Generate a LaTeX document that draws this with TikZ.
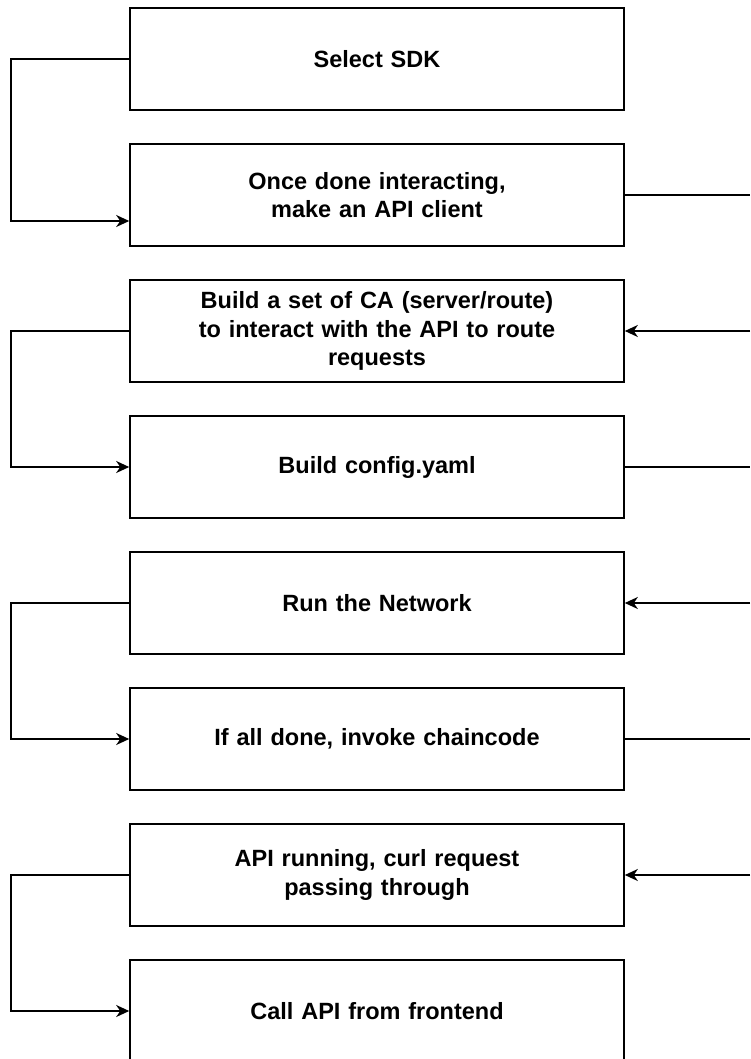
\documentclass[tikz,border=0pt]{standalone}
\usepackage{fontspec}
\setmainfont{Liberation Sans}
\usetikzlibrary{arrows.meta}
\tikzset{
  x=1pt, y=-1pt,
  stepbox/.style={draw, line width=1.6pt, minimum width=494pt, minimum height=102pt,
    text width=470pt, align=center, inner sep=0pt,
    font=\bfseries\fontsize{23.5}{28.5}\selectfont},
  link/.style={draw, line width=1.6pt},
  arrowlink/.style={link, -{Stealth[length=13pt,width=12pt,inset=4pt]}}
}
\begin{document}
\begin{tikzpicture}
\useasboundingbox (0,0) rectangle (750,1059);
\clip (0,0) rectangle (750,1059);
\fill[white] (0,0) rectangle (750,1059);

% process steps
\node[stepbox] (b1) at (377,59)   {Select SDK};
\node[stepbox] (b2) at (377,195)  {Once done interacting,\\ make an API client};
\node[stepbox] (b3) at (377,331)  {Build a set of CA (server/route)\\ to interact with the API to route\\ requests};
\node[stepbox] (b4) at (377,467)  {Build config.yaml};
\node[stepbox] (b5) at (377,603)  {Run the Network};
\node[stepbox] (b6) at (377,739)  {If all done, invoke chaincode};
\node[stepbox] (b7) at (377,875)  {API running, curl request\\ passing through};
\node[stepbox] (b8) at (377,1011) {Call API from frontend};

% loose ends of the right-hand connectors
\coordinate (r2) at (750,195);
\coordinate (r3) at (750,331);
\coordinate (r4) at (750,467);
\coordinate (r5) at (750,603);
\coordinate (r6) at (750,739);
\coordinate (r7) at (750,875);

% left-hand connectors
\draw[arrowlink] (b1.west) -- ++(-118,0) |- ([yshift=-26pt]b2.west);
\draw[arrowlink] (b3.west) -- ++(-118,0) |- (b4.west);
\draw[arrowlink] (b5.west) -- ++(-118,0) |- (b6.west);
\draw[arrowlink] (b7.west) -- ++(-118,0) |- (b8.west);

% right-hand connectors
\draw[link] (b2.east) -- (r2);
\draw[arrowlink] (r3) -- (b3.east);
\draw[link] (b4.east) -- (r4);
\draw[arrowlink] (r5) -- (b5.east);
\draw[link] (b6.east) -- (r6);
\draw[arrowlink] (r7) -- (b7.east);
\end{tikzpicture}
\end{document}
